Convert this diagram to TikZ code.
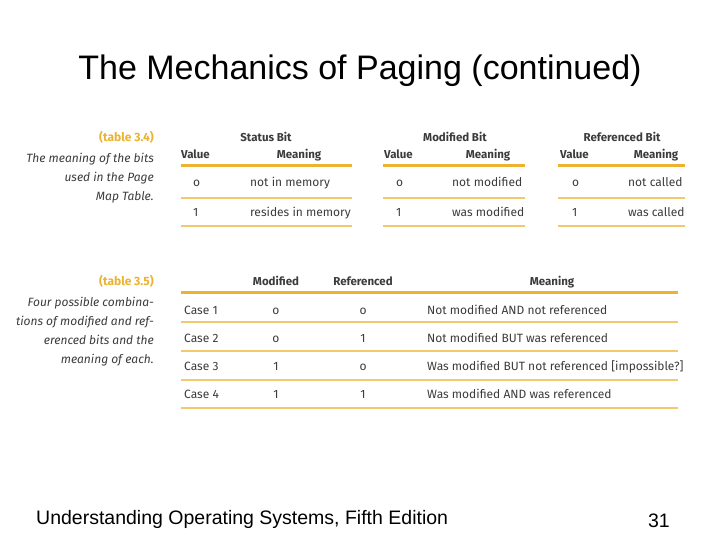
\documentclass[tikz,border=0pt]{standalone}
\usepackage{fontspec}
\setmainfont{Liberation Sans}
\newfontfamily\tf{Fira Sans}
\definecolor{gold}{RGB}{236,178,48}
\definecolor{txt}{RGB}{60,60,60}
\begin{document}
\begin{tikzpicture}[x=1pt,y=-1pt,
 t/.style={font=\tf\fontsize{12}{14}\selectfont,text=txt,inner sep=0pt,anchor=base west},
 h/.style={font=\tf\bfseries\fontsize{11.5}{14}\selectfont,text=txt,inner sep=0pt,anchor=base},
 captxt/.style={font=\tf\itshape\fontsize{12}{19}\selectfont,text=txt,inner sep=0pt,anchor=north east,align=right},
 lbl/.style={font=\tf\bfseries\fontsize{12}{14}\selectfont,text=gold,inner sep=0pt,anchor=base east},
 thick rule/.style={gold,line width=3pt},
 thin rule/.style={gold!70,line width=1.2pt}]
\useasboundingbox (0,0) rectangle (720,540);
\fill[white] (0,0) rectangle (720,540);
\node[font=\fontsize{34}{40}\selectfont,anchor=base,inner sep=0pt] (title) at (360,80) {The Mechanics of Paging (continued)};
\node[font=\fontsize{19.5}{22}\selectfont,anchor=base west,inner sep=0pt] (foot) at (36,524) {Understanding Operating Systems, Fifth Edition};
\node[font=\fontsize{19.5}{22}\selectfont,anchor=base east,inner sep=0pt] (num) at (670,527) {31};
% table 3.4
\node[lbl] (l34) at (154,142) {(table 3.4)};
\node[captxt] (c34) at (154,153) {The meaning of the bits\\used in the Page\\Map Table.};
\node[h] (s1) at (266,142) {Status Bit};
\node[h] (s2) at (455,142) {Modified Bit};
\node[h] (s3) at (622,142) {Referenced Bit};
\foreach \x/\m/\n in {181/299/sa,384/488/sb,560/656/sc}{
 \node[h,anchor=base west] (\n v) at (\x,159) {Value};
 \node[h] (\n m) at (\m,159) {Meaning};
}
\draw[thick rule] (181,166) coordinate (a1) -- (352,166) coordinate (a2);
\draw[thick rule] (383,166) coordinate (b1) -- (525,166) coordinate (b2);
\draw[thick rule] (558,166) coordinate (d1) -- (685,166) coordinate (d2);
\foreach \y in {198,226}{
 \draw[thin rule] (181,\y) -- (352,\y);
 \draw[thin rule] (383,\y) -- (525,\y);
 \draw[thin rule] (558,\y) -- (685,\y);}
\node[t] (r1a) at (193,187) {o};
\node[t] (r1b) at (250,187) {not in memory};
\node[t] (r2a) at (193,216) {1};
\node[t] (r2b) at (250,216) {resides in memory};
\node[t] (r1c) at (396,187) {o};
\node[t] (r1d) at (452,187) {not modified};
\node[t] (r2c) at (396,216) {1};
\node[t] (r2d) at (452,216) {was modified};
\node[t] (r1e) at (572,187) {o};
\node[t] (r1f) at (628,187) {not called};
\node[t] (r2e) at (572,216) {1};
\node[t] (r2f) at (628,216) {was called};
% table 3.5
\node[lbl] (l35) at (154,285) {(table 3.5)};
\node[captxt] (c35) at (154,297) {Four possible combina-\\tions of modified and ref-\\erenced bits and the\\meaning of each.};
\node[h] (hm) at (276,285) {Modified};
\node[h] (hr) at (363,285) {Referenced};
\node[h] (hn) at (552,285) {Meaning};
\draw[thick rule] (181,292) coordinate (e1) -- (678,292) coordinate (e2);
\foreach \y in {322,351,380,408} \draw[thin rule] (181,\y) -- (678,\y);
\foreach \i/\y/\m/\r/\txt in {1/314/o/o/Not modified AND not referenced,
 2/342/o/1/Not modified BUT was referenced,
 3/370/1/o/Was modified BUT not referenced [impossible?],
 4/398/1/1/Was modified AND was referenced}{
 \node[t] (k\i) at (184,\y) {Case \i};
 \node[t,anchor=base] (m\i) at (276,\y) {\m};
 \node[t,anchor=base] (f\i) at (363,\y) {\r};
 \node[t] (n\i) at (427,\y) {\txt};
}
\end{tikzpicture}
\end{document}
